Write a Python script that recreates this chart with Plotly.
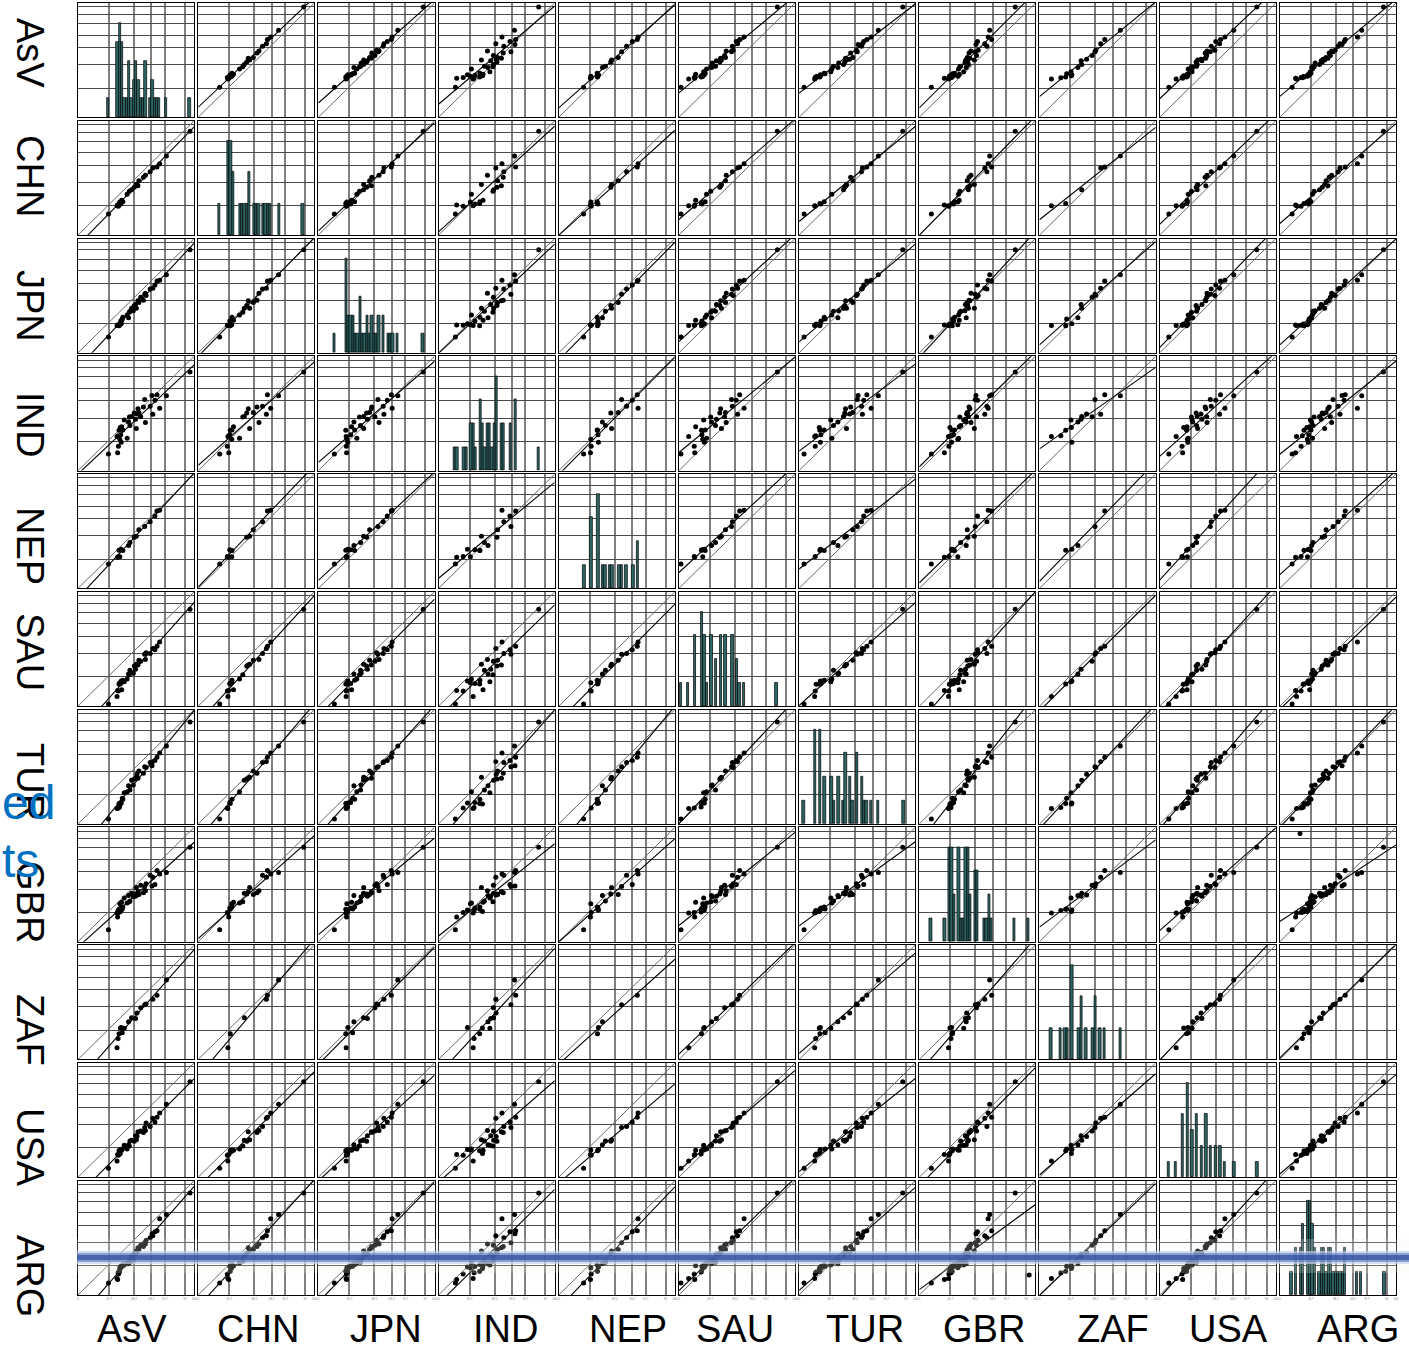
import numpy as np
import pandas as pd
import plotly.graph_objects as go
from plotly.subplots import make_subplots

countries = ["AsV", "CHN", "JPN", "IND", "NEP", "SAU", "TUR", "GBR", "ZAF", "USA", "ARG"]

# one entry per item (41 items); None = no value for that country
AsV = [26.2, 33.6, 34.1, 34.5, 34.8, 35.3, 35.7, 36.0, 36.4, 36.8,
       37.2, 37.6, 38.1, 38.6, 39.8, 42.3, 43.5, 44.2, 44.7, 46.1,
       47.6, 48.4, 49.5, 50.2, 50.8, 51.6, 52.4, 54.0, 56.3, 57.4,
       58.0, 58.6, 62.1, 63.7, 64.4, 66.2, 68.0, 70.3, 76.1, 96.4,
       None]
CHN = [18.5, 25.6, 26.3, None, 25.1, 27.6, None, 28.9, None, 27.2,
       None, 30.4, None, 29.1, None, 35.6, None, 38.4, None, 39.7,
       None, 41.8, None, 44.3, None, 43.1, 47.5, None, 50.6, None,
       52.3, None, 55.4, None, 58.7, None, 59.6, 62.4, 69.2, 90.8,
       None]
JPN = [13.8, 23.9, 24.3, None, 24.1, 23.6, 25.2, 24.5, None, 27.8,
       25.4, 28.6, 29.5, 31.2, None, 33.1, 30.6, 35.4, 36.3, 38.9,
       36.8, 41.5, 42.2, 39.0, None, 45.6, 44.1, 48.7, 46.0, 51.3,
       52.2, 50.1, 55.8, None, 56.4, 59.3, 62.8, 63.5, 68.4, 90.2,
       None]
IND = [14.5, 29.8, 15.6, 30.6, 21.2, 35.4, None, 27.4, 37.8, 31.3,
       24.9, 38.3, None, 35.6, 44.2, 28.3, 42.6, 46.8, 39.5, 47.4,
       None, 50.3, 44.9, 36.9, 49.6, 54.1, 50.8, 47.2, 55.7, 62.3,
       42.1, None, 56.2, 65.8, 49.3, 61.5, 66.4, 54.6, 65.4, 86.2,
       None]
NEP = [21.4, None, 27.3, None, 27.9, 33.4, None, 27.6, None, 33.8,
       34.2, None, None, 33.1, None, None, 37.6, None, 40.2, None,
       None, 44.8, None, 45.5, None, None, 51.2, None, None, 54.1,
       None, None, 58.4, None, None, 63.3, 67.6, 68.3, None, None,
       None]
SAU = [1.8, 8.4, 13.6, None, 13.2, 19.4, 19.1, 20.5, None, 19.8,
       21.9, 14.4, None, 22.6, 21.3, 23.8, 28.1, 27.4, 31.5, None,
       28.7, 35.2, 32.3, 36.6, None, 35.9, 40.1, 39.3, None, 45.3,
       40.7, 46.7, 46.0, None, 50.5, 49.4, 52.3, 56.1, None, 84.7,
       None]
TUR = [4.3, 13.4, None, 14.3, 13.9, 17.9, 14.7, None, 17.4, 18.8,
       18.3, None, 22.4, 21.6, 27.3, 28.2, 33.4, None, 29.6, 38.2,
       34.1, 39.3, None, 40.8, 43.5, 40.0, 46.2, None, 44.4, 50.1,
       None, 49.3, 53.7, 50.8, 54.5, 55.6, 58.3, 62.0, 68.2, 89.2,
       None]
GBR = [10.4, 25.2, 21.6, 27.3, 25.5, 28.4, 25.9, 33.2, 26.4, 29.5,
       27.8, 34.4, 28.7, 30.3, 38.2, 33.8, 40.4, 34.9, 35.6, 42.3,
       39.3, 41.7, 39.7, 47.4, 40.8, 43.6, 41.3, 49.3, 42.8, 48.2,
       44.5, 50.7, 58.2, 48.8, 56.4, 50.1, 62.3, 59.3, 60.6, 82.6,
       94.6]
ZAF = [None, 10.3, None, 18.4, None, 22.6, None, None, 27.5, None,
       27.9, None, 23.4, None, 27.2, None, 33.1, None, None, 36.4,
       None, None, 35.8, None, 40.6, None, None, 45.3, None, 47.8,
       None, 48.5, None, None, 52.7, None, 56.2, None, 69.6, None,
       None]
USA = [7.9, 14.2, 19.8, None, 19.3, 23.2, 20.4, 23.9, 20.7, None,
       24.3, 23.6, 24.8, None, 27.9, 24.6, 28.5, 27.4, 31.8, 32.3,
       None, 31.4, 36.4, 32.7, 35.6, 39.7, None, 40.5, 39.2, 43.6,
       40.8, 47.5, 44.4, None, 51.6, 48.3, 52.4, 56.2, 63.8, 83.6,
       None]
ARG = [10.6, 14.4, 13.6, 19.4, 18.3, 20.8, 20.2, 23.8, 23.3, 24.9,
       24.5, 25.7, 25.2, 26.8, 26.3, 28.1, 27.4, 29.5, 28.6, 34.2,
       30.4, 36.5, 35.6, 38.6, 37.3, 41.4, 39.8, 43.5, 42.5, 45.8,
       44.6, 47.6, 50.2, 53.6, 51.8, 55.4, 56.3, 66.8, 70.5, 89.2,
       17.4]

data = pd.DataFrame({"AsV": AsV, "CHN": CHN, "JPN": JPN, "IND": IND, "NEP": NEP,
                     "SAU": SAU, "TUR": TUR, "GBR": GBR, "ZAF": ZAF, "USA": USA,
                     "ARG": ARG}, dtype=float)

# reference grid of every panel (axis units)
grid_x = [26.7, 48.2, 63.2, 74.7, 92.0]
grid_y = [25.6, 46.0, 61.0, 72.0, 82.0, 90.0, 96.6]
tick_x = [0.0] + grid_x + [100.0]

W, H = 1409, 1351
ML, MR, MT, MB = 78, 13, 3, 56
PW, PH = W - ML - MR, H - MT - MB
n = len(countries)

FONT = "Liberation Sans, Arial, sans-serif"
TEAL = "#2E6666"

fig = make_subplots(rows=n, cols=n, horizontal_spacing=4 / PW, vertical_spacing=3.5 / PH)

bin_edges = np.arange(1, 103, 2)
for i, cy in enumerate(countries):
    for j, cx in enumerate(countries):
        r, c = i + 1, j + 1
        if i == j:
            v = data[cy].dropna().values
            counts, _ = np.histogram(v, bins=bin_edges)
            top = counts.max() * 1.21
            fig.add_trace(go.Histogram(
                x=v, xbins=dict(start=1, end=101, size=2),
                marker=dict(color=TEAL, line=dict(color="black", width=0.7)),
                hoverinfo="skip"), row=r, col=c)
            fig.update_yaxes(range=[0, top], tickvals=[g / 100 * top for g in grid_y],
                             row=r, col=c)
        else:
            pair = data[[cx, cy]].dropna()
            x, y = pair[cx].values, pair[cy].values
            slope, icpt = np.polyfit(x, y, 1)
            fig.add_trace(go.Scatter(x=[0, 100], y=[0, 100], mode="lines",
                                     line=dict(color="#6a6a6a", width=1),
                                     hoverinfo="skip"), row=r, col=c)
            fig.add_trace(go.Scatter(x=[0, 100], y=[icpt, icpt + slope * 100], mode="lines",
                                     line=dict(color="black", width=1.1),
                                     hoverinfo="skip"), row=r, col=c)
            fig.add_trace(go.Scatter(x=x, y=y, mode="markers",
                                     marker=dict(color="black", size=5),
                                     hoverinfo="skip"), row=r, col=c)
            fig.update_yaxes(range=[0, 100], tickvals=grid_y, row=r, col=c)

fig.update_xaxes(range=[0, 100], tickvals=tick_x, showgrid=True, gridcolor="#808080",
                 gridwidth=1.5, showline=True, mirror=True, linecolor="black",
                 linewidth=1.2, zeroline=False, ticks="", showticklabels=False)
fig.update_yaxes(showgrid=True, gridcolor="#4a4a4a", gridwidth=1.4, showline=True,
                 mirror=True, linecolor="black", linewidth=1.2, zeroline=False,
                 ticks="", showticklabels=False)
fig.update_xaxes(showticklabels=True, ticktext=[f"{t:g}" for t in tick_x],
                 tickfont=dict(size=3, color="#808080", family=FONT), row=n)


def px_x(px):
    return (px - ML) / PW


def px_y(py):
    return 1 - (py - MT) / PH


annotations = []
col_centres = [132, 258, 386, 506, 628, 735, 865, 984, 1113, 1228, 1358]
row_centres = [53, 176, 306, 424, 546, 652, 782, 902, 1030, 1147, 1276]
for name, cx in zip(countries, col_centres):
    annotations.append(dict(x=px_x(cx), y=px_y(1329), xref="paper", yref="paper",
                            text=name, showarrow=False, xanchor="center", yanchor="middle",
                            font=dict(size=38, color="black", family=FONT)))
for name, cy in zip(countries, row_centres):
    annotations.append(dict(x=px_x(30), y=px_y(cy), xref="paper", yref="paper",
                            text=name, showarrow=False, textangle=90,
                            xanchor="center", yanchor="middle",
                            font=dict(size=38, color="black", family=FONT)))
for word, cy in [("ed", 802), ("ts", 860)]:
    annotations.append(dict(x=px_x(0), y=px_y(cy), xref="paper", yref="paper",
                            text=word, showarrow=False, xanchor="left", yanchor="middle",
                            font=dict(size=48, color="#0070C0", family=FONT)))

# highlighted band across the bottom row
band = [(1239, 1251, "#F4EEFB", 0.22), (1251, 1253, "#C5D0EC", 0.75),
        (1253, 1255, "#7C94CC", 0.9), (1255, 1260, "#3D5DAA", 0.95),
        (1260, 1262, "#7C94CC", 0.9), (1262, 1264, "#C9D6EC", 0.75),
        (1264, 1273, "#F0F7E2", 0.22)]
shapes = [dict(type="rect", xref="paper", yref="paper", x0=px_x(77), x1=px_x(1409),
               y0=px_y(b), y1=px_y(t), fillcolor=col, opacity=op, line=dict(width=0),
               layer="above") for t, b, col, op in band]

fig.update_layout(width=W, height=H, margin=dict(l=ML, r=MR, t=MT, b=MB),
                  showlegend=False, bargap=0, plot_bgcolor="white",
                  paper_bgcolor="white", annotations=annotations, shapes=shapes,
                  font=dict(family=FONT))

fig.write_html("out.html")
